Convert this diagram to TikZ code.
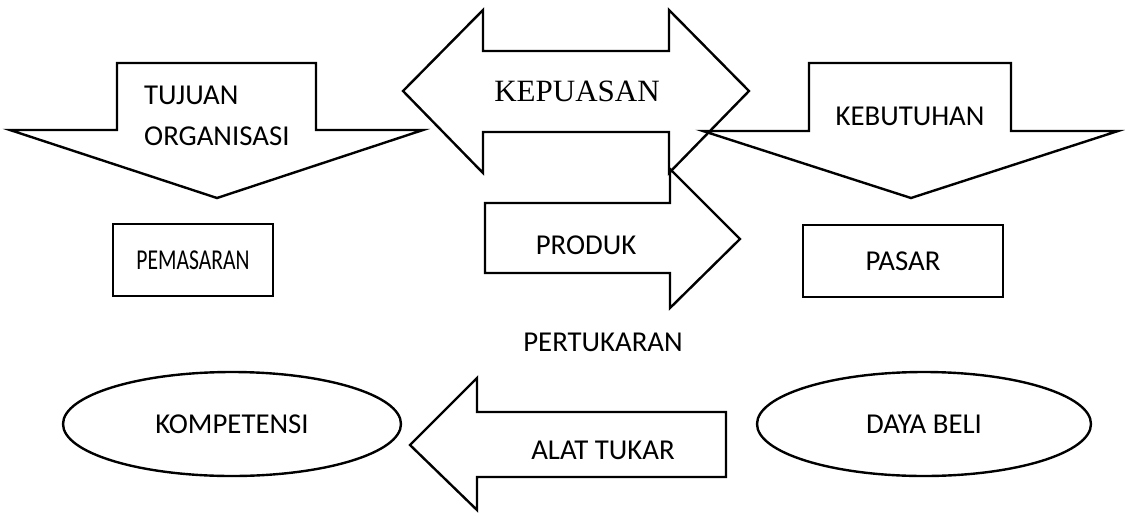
\documentclass[tikz,border=0pt]{standalone}
\usepackage{fontspec}
\setmainfont{Carlito}
\newfontfamily\timesfont{Liberation Serif}
\usetikzlibrary{shapes.geometric}
\tikzset{every picture/.style={line width=2.4pt}}

\begin{document}
\begin{tikzpicture}[x=1pt, y=-1pt,
        every node/.style={font=\fontsize{28.8}{41}\selectfont, inner sep=0pt},
        blockarrow/.style={draw, line join=miter},
        box/.style={draw, minimum width=160pt, minimum height=72pt},
        oval/.style={draw, ellipse, minimum width=338pt, minimum height=104pt}]
    \useasboundingbox (0,0) rectangle (1125,512);
    % tujuan organisasi: arrow pointing down
    \draw[blockarrow] (117,63) -- (316,63) -- (316,130) -- (423,130) -- (217,198)
        -- (10,130) -- (117,130) -- cycle;
    \node[anchor=west, align=left] (tujuan) at (143,115.5) {TUJUAN\\ORGANISASI};
    % kepuasan: arrow both ways
    \draw[blockarrow] (403,91) -- (483,10) -- (483,51) -- (669,51) -- (669,10) -- (749,91)
        -- (669,173) -- (669,132) -- (483,132) -- (483,173) -- cycle;
    \node[font=\timesfont\fontsize{31}{36}\selectfont] (kepuasan) at (577,91) {KEPUASAN};
    % kebutuhan: arrow pointing down
    \draw[blockarrow] (809,63) -- (1011,63) -- (1011,131) -- (1118,131) -- (911,198)
        -- (703,131) -- (809,131) -- cycle;
    \node (kebutuhan) at (910,116) {KEBUTUHAN};
    % produk: arrow to the right
    \draw[blockarrow] (485,203) -- (670,203) -- (670,169) -- (740,239) -- (670,308)
        -- (670,273) -- (485,273) -- cycle;
    \node (produk) at (586,245) {PRODUK};
    % alat tukar: arrow to the left
    \draw[blockarrow] (410,445) -- (477,378) -- (477,412) -- (726,412) -- (726,477)
        -- (477,477) -- (477,510) -- cycle;
    \node (alattukar) at (603,450) {ALAT TUKAR};
    % boxes and ovals
    \node[box] (pemasaran) at (193,260) {\scalebox{0.75}[1]{PEMASARAN}};
    \node[box, minimum width=200pt] (pasar) at (903,261) {PASAR};
    \node (pertukaran) at (603,342) {PERTUKARAN};
    \node[oval] (kompetensi) at (232,424) {KOMPETENSI};
    \node[oval, minimum width=334pt] (dayabeli) at (924,424) {DAYA BELI};
\end{tikzpicture}
\end{document}
